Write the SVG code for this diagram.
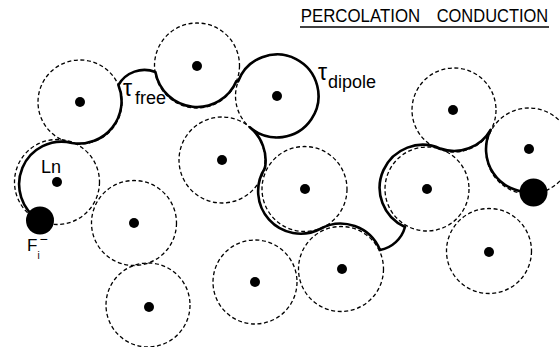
<svg xmlns="http://www.w3.org/2000/svg" width="560" height="347" viewBox="0 0 560 347">
<style>
.ring{fill:none;stroke:#000;stroke-width:1.3;stroke-dasharray:4 2.6}
.dot{fill:#000}
.ion{fill:#000}
.trail{fill:none;stroke:#000;stroke-width:2.6;stroke-linecap:round;stroke-linejoin:round}
.lbl{font-family:"Liberation Sans",Arial,sans-serif;fill:#000}
</style>
<rect width="560" height="347" fill="#fff"/>
<g id="title">
<text class="lbl" x="300.7" y="21.7" font-size="18" textLength="119.5" lengthAdjust="spacingAndGlyphs">PERCOLATION</text>
<text class="lbl" x="436.7" y="21.7" font-size="18" textLength="111.5" lengthAdjust="spacingAndGlyphs">CONDUCTION</text>
<line x1="300" y1="27" x2="549" y2="27" stroke="#000" stroke-width="1.3"/>
</g>
<g id="site-1"><circle class="ring" cx="80" cy="102" r="42"/><circle class="dot" cx="80" cy="102" r="5"/></g>
<g id="site-2"><circle class="ring" cx="197" cy="65.5" r="42.5"/><circle class="dot" cx="197" cy="66" r="5"/></g>
<g id="site-3"><circle class="ring" cx="277" cy="96" r="41.5"/><circle class="dot" cx="277" cy="96" r="5"/></g>
<g id="site-Ln"><circle class="ring" cx="57" cy="182" r="42.5"/><circle class="dot" cx="57" cy="182" r="5"/><text class="lbl" x="41" y="173" font-size="18">Ln</text></g>
<g id="site-5"><circle class="ring" cx="134" cy="223" r="42.5"/><circle class="dot" cx="134" cy="223" r="5"/></g>
<g id="site-6"><circle class="ring" cx="148" cy="305" r="42"/><circle class="dot" cx="149" cy="307" r="5"/></g>
<g id="site-7"><circle class="ring" cx="222" cy="160" r="43"/><circle class="dot" cx="222" cy="160" r="5"/></g>
<g id="site-8"><circle class="ring" cx="304.5" cy="189" r="42.5"/><circle class="dot" cx="305" cy="189" r="5"/></g>
<g id="site-9"><circle class="ring" cx="255" cy="282" r="42"/><circle class="dot" cx="255" cy="282" r="5"/></g>
<g id="site-10"><circle class="ring" cx="341" cy="269" r="42.5"/><circle class="dot" cx="342" cy="269" r="5"/></g>
<g id="site-11"><circle class="ring" cx="427" cy="189" r="42"/><circle class="dot" cx="427" cy="189" r="5"/></g>
<g id="site-12"><circle class="ring" cx="454" cy="110" r="42"/><circle class="dot" cx="453" cy="110" r="5"/></g>
<g id="site-13"><circle class="ring" cx="529" cy="151" r="43"/><circle class="dot" cx="529" cy="149" r="5"/></g>
<g id="site-14"><circle class="ring" cx="489" cy="251" r="42.5"/><circle class="dot" cx="489" cy="252" r="5"/></g>
<g id="connectors">
<path class="trail" d="M 39.5 220.5 A 42.5 42.5 0 0 1 72 143 A 42.5 42.5 0 0 0 118.4 85 A 30 30 0 0 1 155.4 72 A 42.5 42.5 0 0 0 236.4 81 L 238.15 81.4 A 41.5 41.5 0 1 1 249.8 127.3 A 43 43 0 0 1 265 168 A 42.5 42.5 0 0 0 320 229 A 42.5 42.5 0 0 1 380 250 A 32 32 0 0 0 405 227 A 42 42 0 0 1 440.3 148.6 A 42 42 0 0 0 490.6 129.8 A 43 43 0 0 0 532 192"/>
</g>
<g id="label-tau-free"><text class="lbl" font-size="23"><tspan x="123" y="96">τ</tspan><tspan x="135" y="104" font-size="18">free</tspan></text></g>
<g id="label-tau-dipole"><text class="lbl" font-size="23"><tspan x="318" y="79.5">τ</tspan><tspan x="328" y="87.5" font-size="18">dipole</tspan></text></g>
<g id="ion-F"><circle class="ion" cx="40" cy="220.5" r="14"/><text class="lbl" font-size="17"><tspan x="27" y="250.5">F</tspan><tspan x="37.5" y="258.5" font-size="10">i</tspan><tspan x="39.5" y="243.5" font-size="14">−</tspan></text></g>
<g id="ion-F-2"><circle class="ion" cx="533.5" cy="192.5" r="14"/></g>
</svg>
